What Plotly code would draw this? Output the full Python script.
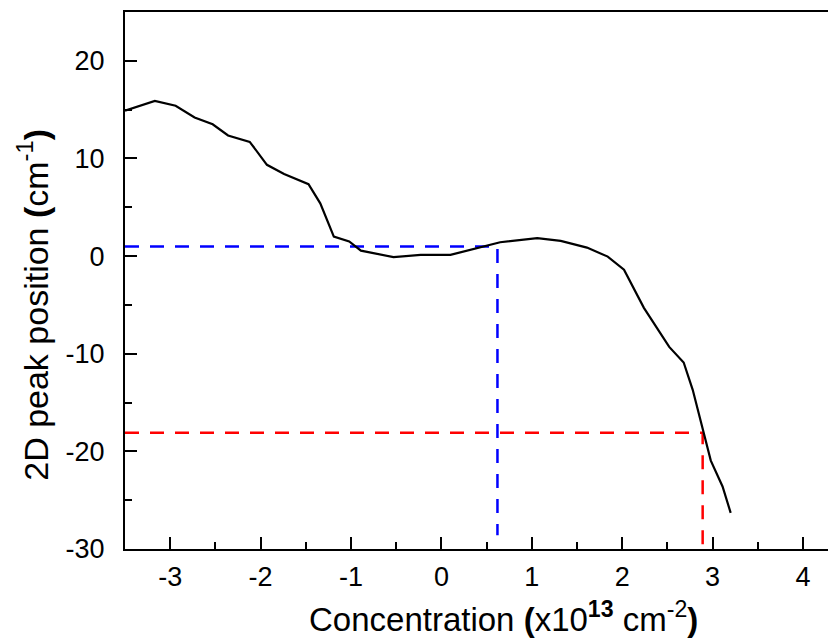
import plotly.graph_objects as go

# Black curve: 2D peak position vs concentration
conc = [-3.50, -3.17, -2.94, -2.73, -2.53, -2.36, -2.12, -1.93, -1.74, -1.47, -1.34,
        -1.19, -1.02, -0.89, -0.53, -0.23, 0.10, 0.47, 0.65, 1.06, 1.32, 1.61, 1.84,
        2.02, 2.24, 2.52, 2.68, 2.78, 2.87, 2.98, 3.11, 3.20]
peak = [14.9, 15.9, 15.4, 14.2, 13.5, 12.35, 11.7, 9.35, 8.4, 7.37, 5.4,
        2.0, 1.5, 0.56, -0.11, 0.12, 0.12, 1.04, 1.42, 1.83, 1.56, 0.87, -0.05,
        -1.4, -5.3, -9.3, -10.9, -13.7, -17.1, -20.95, -23.6, -26.3]

# Guide lines (blue and red dashed)
blue_x = [-3.5, 0.62, 0.62]
blue_y = [0.98, 0.98, -28.6]
red_x = [-3.5, 2.89, 2.89]
red_y = [-18.1, -18.1, -30]

x_ticks = [-3, -2, -1, 0, 1, 2, 3, 4]
y_ticks = [-30, -20, -10, 0, 10, 20]
x_title = "Concentration <b>(</b>x10<sup><b>13</b></sup> cm<sup>-2</sup><b>)</b>"
y_title = "2D peak position <b>(</b>cm<sup>-1</sup><b>)</b>"

fig = go.Figure()
fig.add_trace(go.Scatter(x=blue_x, y=blue_y, mode="lines",
                         line=dict(color="#0000ff", width=2.5, dash="14px,11px"),
                         showlegend=False))
fig.add_trace(go.Scatter(x=red_x, y=red_y, mode="lines",
                         line=dict(color="#ff0000", width=2.5, dash="14px,11px"),
                         showlegend=False))
fig.add_trace(go.Scatter(x=conc, y=peak, mode="lines",
                         line=dict(color="black", width=2.2),
                         showlegend=False))

font = "Liberation Sans, Arial, sans-serif"
fig.update_layout(
    width=828, height=636,
    margin=dict(l=117, r=0, t=4, b=95),
    paper_bgcolor="white", plot_bgcolor="white",
    font=dict(family=font, color="black", size=27),
    xaxis=dict(range=[-3.5, 4.365], tickvals=x_ticks, ticktext=[str(v) for v in x_ticks],
               tickfont=dict(family=font, size=27, color="black"),
               ticks="inside", ticklen=12, tickwidth=2, tickcolor="black",
               minor=dict(dtick=0.5, tick0=0, ticks="inside", ticklen=7, tickwidth=2, tickcolor="black"),
               showline=True, linecolor="black", linewidth=2, mirror=True,
               showgrid=False, zeroline=False, ticklabelstandoff=3),
    yaxis=dict(range=[-30, 25], tickvals=y_ticks, ticktext=[str(v) for v in y_ticks],
               tickfont=dict(family=font, size=27, color="black"),
               ticks="inside", ticklen=12, tickwidth=2, tickcolor="black",
               minor=dict(dtick=5, tick0=0, ticks="inside", ticklen=7, tickwidth=2, tickcolor="black"),
               showline=True, linecolor="black", linewidth=2,
               showgrid=False, zeroline=False, ticklabelstandoff=13),
    annotations=[
        dict(text=x_title, xref="paper", yref="paper", x=0.533, y=-0.127,
             xanchor="center", yanchor="middle", showarrow=False,
             font=dict(family=font, size=33, color="black")),
        dict(text=y_title, xref="paper", yref="paper", x=-0.13, y=0.454,
             xanchor="center", yanchor="middle", textangle=-90, showarrow=False,
             font=dict(family=font, size=34, color="black")),
    ],
)

fig.write_html("out.html")
